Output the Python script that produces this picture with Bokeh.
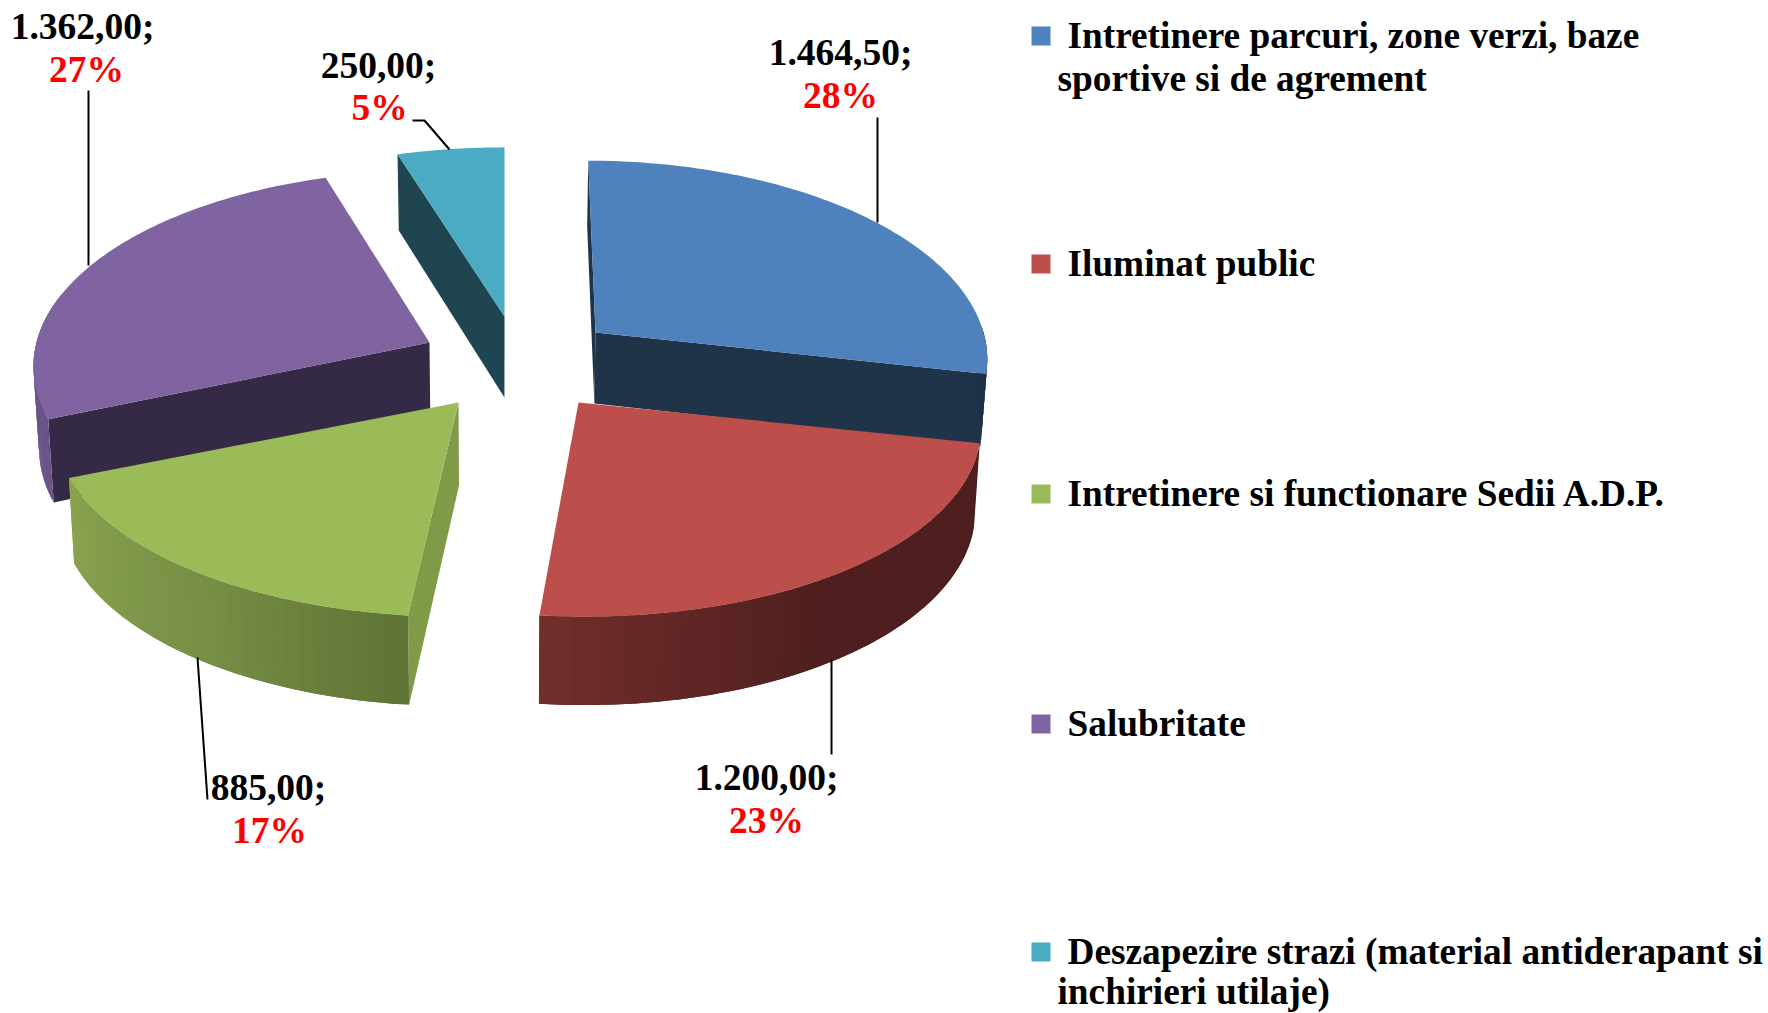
import math
from bokeh.plotting import figure
from bokeh.models import Range1d, ColumnDataSource
from bokeh.core.properties import value
from bokeh.embed import file_html
from bokeh.resources import INLINE

# ---- data -------------------------------------------------------------
categories = ["Intretinere parcuri, zone verzi, baze|sportive si de agrement",
              "Iluminat public",
              "Intretinere si functionare Sedii A.D.P.",
              "Salubritate",
              "Deszapezire strazi (material antiderapant si|inchirieri utilaje)"]
values = [1464.50, 1200.00, 885.00, 1362.00, 250.00]
value_labels = ["1.464,50;", "1.200,00;", "885,00;", "1.362,00;", "250,00;"]
percent_labels = ["28%", "23%", "17%", "27%", "5%"]

# ---- styles / layout (page pixels) -------------------------------------
W, H = 1768, 1013
top_colors = ["#4F81BD", "#BC4F4C", "#9BBB59", "#8064A2", "#4BABC5"]
apex = [(595, 332), (578, 402), (458, 402), (429, 342), (504, 316)]
radius = [388, 399, 401, 393, 397]
depth = [71, 82, 83, 81, 81]
K = [192, 189, 189, 192, 189]
VX = [526, 526, 490, 449, 504]
P, VB, SHRINK, DSLOPE = 0.1175, 500.0, 0.988, 0.03
outer_stops = {0: [(0, "#1F3349"), (1, "#1F3349")],
               1: [(0, "#4E1F1E"), (0.55, "#4E1F1E"), (1, "#722E2C")],
               2: [(0, "#5F7335"), (0.45, "#778E45"), (1, "#8AA34F")],
               3: [(0, "#6B5488"), (1, "#6B5488")]}
outer_span = {0: (88, None), 1: (None, None), 2: (None, None), 3: (None, 285)}
cut_walls = {0: [("start", "#1F3349"), ("end", "#1F3349")],
             2: [("start", "#7F9B48")],
             3: [("start", "#352A45")],
             4: [("start", "#1F4550")]}
draw_order = [4, 0, 3, 1, 2]

LABEL_SHIFT, LEGEND_SHIFT = -12.8, -12.5
label_pos = [(840, 65, 840, 108), (766, 790, 766, 833), (268, 800, 269, 843),
             (82, 39, 86, 82), (378, 78, 379, 120)]
leaders = [([877, 877], [117, 222]), ([831, 831], [659, 754]),
           ([197, 207], [657, 799]), ([88, 88], [90, 265]),
           ([412, 424, 449], [120, 120, 149])]
legend_y = [47, 275, 505, 735, 963]
legend_wrap = [43, 0, 0, 0, 40]
LEG_X0, LEG_X1, LEG_TX, LEG_TX2 = 1031, 1050, 1067, 1057
VALUE_FS, LEGEND_FS = "37.5px", "37.3px"

# ---- projection --------------------------------------------------------
total = sum(values)
spans, acc = [], 0.0
for v in values:
    spans.append((acc, acc + v / total * 360.0))
    acc += v / total * 360.0


def top_pt(i, deg):
    t = math.radians(deg)
    s = 1.0 / (1.0 + P * math.cos(t))
    ax, ay = apex[i]
    return (ax + radius[i] * math.sin(t) * s + (ax - VX[i]) * (s - 1.0),
            ay - K[i] * math.cos(t) * s)


def low_pt(i, pt):
    x, y = pt
    return (VB + (x - VB) * SHRINK, y + depth[i] + DSLOPE * (y - apex[i][1]))


def mix(stops, f):
    for (f0, c0), (f1, c1) in zip(stops, stops[1:]):
        if f <= f1:
            u = (f - f0) / (f1 - f0) if f1 > f0 else 0.0
            a = [int(c0[k:k + 2], 16) for k in (1, 3, 5)]
            b = [int(c1[k:k + 2], 16) for k in (1, 3, 5)]
            return "#%02x%02x%02x" % tuple(round(p + (q - p) * u) for p, q in zip(a, b))
    return stops[-1][1]


p = figure(width=W, height=H, x_range=Range1d(0, W), y_range=Range1d(H, 0),
           output_backend="svg", toolbar_location=None, min_border=0,
           background_fill_color="white", border_fill_color="white")
p.axis.visible = False
p.grid.visible = False
p.outline_line_color = None

xs, ys, cs = [], [], []


def add(poly, color):
    xs.append([q[0] for q in poly])
    ys.append([q[1] for q in poly])
    cs.append(color)


for i in draw_order:
    a0, a1 = spans[i]
    ap = apex[i]
    for side, col in cut_walls.get(i, []):
        e = top_pt(i, a0 if side == "start" else a1)
        add([ap, e, low_pt(i, e), low_pt(i, ap)], col)
    if i in outer_stops:
        lo, hi = outer_span[i]
        lo = a0 if lo is None else lo
        hi = a1 if hi is None else hi
        n = 60
        for k in range(n):
            d0 = lo + (hi - lo) * k / n
            d1 = lo + (hi - lo) * min(k + 2, n) / n  # overlap hides seams
            f = (k + 0.5) / n
            arc_pts = [top_pt(i, d0), top_pt(i, (d0 + d1) / 2), top_pt(i, d1)]
            add(arc_pts + [low_pt(i, q) for q in reversed(arc_pts)], mix(outer_stops[i], f))
    arc = [top_pt(i, a0 + (a1 - a0) * k / 80) for k in range(81)]
    add([ap] + arc, top_colors[i])

src = ColumnDataSource(dict(xs=xs, ys=ys, c=cs))
p.patches("xs", "ys", source=src, fill_color="c", line_color=None)

# leaders
for lx, ly in leaders:
    p.line(lx, ly, line_color="black", line_width=2)

# data labels
p.text([q[0] for q in label_pos], [q[1] + LABEL_SHIFT for q in label_pos], text=value_labels,
       text_font=value("Liberation Serif"), text_font_style="bold",
       text_font_size=value(VALUE_FS), text_color="black",
       text_align="center", text_baseline="alphabetic")
p.text([q[2] for q in label_pos], [q[3] + LABEL_SHIFT for q in label_pos], text=percent_labels,
       text_font=value("Liberation Serif"), text_font_style="bold",
       text_font_size=value(VALUE_FS), text_color="#FF0000",
       text_align="center", text_baseline="alphabetic")

# legend
lx, ly, lt = [], [], []
for name, base, wrap in zip(categories, legend_y, legend_wrap):
    parts = name.split("|")
    lx.append(LEG_TX)
    ly.append(base + LEGEND_SHIFT)
    lt.append(parts[0])
    if len(parts) > 1:
        lx.append(LEG_TX2)
        ly.append(base + LEGEND_SHIFT + wrap)
        lt.append(parts[1])
p.text(lx, ly, text=lt, text_font=value("Liberation Serif"), text_font_style="bold",
       text_font_size=value(LEGEND_FS), text_color="black",
       text_align="left", text_baseline="alphabetic")
p.quad(left=[LEG_X0] * 5, right=[LEG_X1] * 5,
       top=[b - 21 for b in legend_y], bottom=[b - 2 for b in legend_y],
       fill_color=top_colors, line_color=None)

open("out.html", "w").write(file_html(p, INLINE))
